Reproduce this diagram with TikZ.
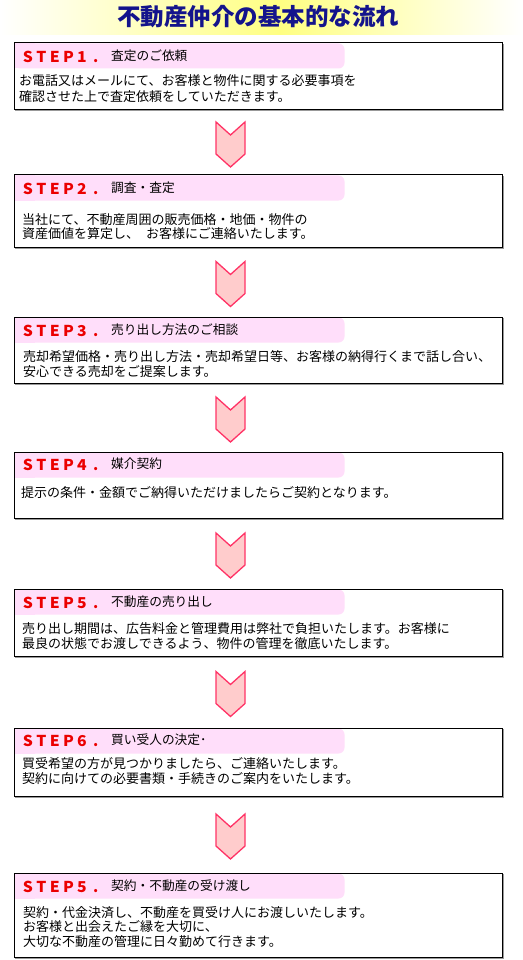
\documentclass[tikz,border=0pt]{standalone}
\usepackage{fontspec}
\setmainfont{Noto Sans CJK JP}
\usetikzlibrary{calc}
\definecolor{titleblue}{RGB}{20,20,140}
\definecolor{hdrpink}{RGB}{255,222,250}
\definecolor{stepred}{RGB}{235,0,0}
\definecolor{chevfill}{RGB}{255,204,204}
\definecolor{chevline}{RGB}{255,51,102}
\definecolor{bandyellow}{RGB}{255,255,130}
\newcommand\wideL[1]{\makebox[13.5pt][c]{\scalebox{1.05}[1]{#1}}}
\newcommand\widedot{\makebox[13.5pt][l]{\hspace{4.5pt}.}}
\newcommand\steptag[1]{\wideL{S}\wideL{T}\wideL{E}\wideL{P}\wideL{#1}\widedot}
\begin{document}
\begin{tikzpicture}[x=1pt,y=-1pt,
  stepbox/.style={draw=black, line width=1pt, inner sep=0pt, outer sep=0pt, anchor=north west, minimum width=488pt},
  shadowline/.style={draw=black!40, line width=1pt},
  steplbl/.style={anchor=west, inner sep=0pt, text=stepred, font=\fontsize{15}{16}\selectfont\bfseries},
  stepttl/.style={anchor=west, inner sep=0pt, font=\fontsize{12.7}{14}\selectfont},
  bodytxt/.style={anchor=west, inner sep=0pt, align=left, font=\fontsize{13}{14.5}\selectfont},
  titletxt/.style={inner sep=0pt, text=titleblue, font=\fontsize{23.5}{25}\selectfont\bfseries},
  chevron/.pic={\draw[fill=chevfill, draw=chevline, line width=1.3pt, line join=miter]
     (-14.5,-20.5) -- (0,-7.5) -- (14.5,-20.5) -- (14.5,11.5) -- (0,24.5) -- (-14.5,11.5) -- cycle;}
]
\useasboundingbox[fill=white] (0,0) rectangle (522,960);

% title band
\shade[left color=white, right color=bandyellow] (0,0) rectangle (280,35);
\shade[left color=bandyellow, right color=white] (280,0) rectangle (522,35);
\node[titletxt] (title) at (258,16.5) {不動産仲介の基本的な流れ};

% boxes
\node[stepbox, minimum height=67pt] (b1) at (14,43) {};
\node[stepbox, minimum height=72pt] (b2) at (14,175) {};
\node[stepbox, minimum height=66pt] (b3) at (14,317) {};
\node[stepbox, minimum height=66pt] (b4) at (14,452) {};
\node[stepbox, minimum height=67pt] (b5) at (14,589) {};
\node[stepbox, minimum height=68pt] (b6) at (14,728) {};
\node[stepbox, minimum height=84pt] (b7) at (14,873) {};

\foreach \b in {b1,b2,b3,b4,b5,b6,b7}{
  \draw[shadowline] ($(\b.south west)+(1,1)$) -- ($(\b.south east)+(1,1)$) -- ($(\b.north east)+(1,1)$);
  \fill[hdrpink, rounded corners=6pt] ($(\b.north west)+(0.5,0.5)$) rectangle ++(330,25);
  \fill[hdrpink] ($(\b.north west)+(0.5,0.5)$) rectangle ++(20,25);
  \draw[line width=1pt] (\b.south west) rectangle (\b.north east);
}

% headers
\node[steplbl] (s1) at ($(b1.north west)+(7,13.5)$) {\steptag{1}};
\node[stepttl] (t1) at ($(b1.north west)+(97,13)$) {査定のご依頼};
\node[steplbl] (s2) at ($(b2.north west)+(7,13.5)$) {\steptag{2}};
\node[stepttl] (t2) at ($(b2.north west)+(97,13)$) {調査・査定};
\node[steplbl] (s3) at ($(b3.north west)+(7,13.5)$) {\steptag{3}};
\node[stepttl] (t3) at ($(b3.north west)+(97,13)$) {売り出し方法のご相談};
\node[steplbl] (s4) at ($(b4.north west)+(7,12.5)$) {\steptag{4}};
\node[stepttl] (t4) at ($(b4.north west)+(97,12)$) {媒介契約};
\node[steplbl] (s5) at ($(b5.north west)+(7,13.5)$) {\steptag{5}};
\node[stepttl] (t5) at ($(b5.north west)+(97,13)$) {不動産の売り出し};
\node[steplbl] (s6) at ($(b6.north west)+(7,12.5)$) {\steptag{6}};
\node[stepttl] (t6) at ($(b6.north west)+(97,12)$) {買い受人の決定･};
\node[steplbl] (s7) at ($(b7.north west)+(7,13.5)$) {\steptag{5}};
\node[stepttl] (t7) at ($(b7.north west)+(97,13)$) {契約・不動産の受け渡し};

% bodies
\node[bodytxt, font=\fontsize{13}{16}\selectfont] (d1) at ($(b1.north west)+(5,46)$)
  {お電話又はメールにて、お客様と物件に関する必要事項を\\確認させた上で査定依頼をしていただきます。};
\node[bodytxt] (d2) at ($(b2.north west)+(8,51.5)$)
  {当社にて、不動産周囲の販売価格・地価・物件の\\資産価値を算定し、\hspace{7pt}お客様にご連絡いたします。};
\node[bodytxt] (d3) at ($(b3.north west)+(9,47)$)
  {売却希望価格・売り出し方法・売却希望日等、お客様の納得行くまで話し合い、\\安心できる売却をご提案します。};
\node[bodytxt] (d4) at ($(b4.north west)+(7,41)$)
  {提示の条件・金額でご納得いただけましたらご契約となります。};
\node[bodytxt] (d5) at ($(b5.north west)+(8,47)$)
  {売り出し期間は、広告料金と管理費用は弊社で負担いたします。お客様に\\最良の状態でお渡しできるよう、物件の管理を徹底いたします。};
\node[bodytxt] (d6) at ($(b6.north west)+(8,43)$)
  {買受希望の方が見つかりましたら、ご連絡いたします。\\契約に向けての必要書類・手続きのご案内をいたします。};
\node[bodytxt] (d7) at ($(b7.north west)+(9,54)$)
  {契約・代金決済し、不動産を買受け人にお渡しいたします。\\お客様と出会えたご縁を大切に、\\大切な不動産の管理に日々勤めて行きます。};

% chevrons
\pic at ($(b1.south)!0.5!(b2.north)+(-27.5,0)$) {chevron};
\pic at ($(b2.south)!0.5!(b3.north)+(-27.5,0)$) {chevron};
\pic at ($(b3.south)!0.5!(b4.north)+(-27.5,0)$) {chevron};
\pic at ($(b4.south)!0.5!(b5.north)+(-27.5,0)$) {chevron};
\pic at ($(b5.south)!0.5!(b6.north)+(-27.5,0)$) {chevron};
\pic at ($(b6.south)!0.5!(b7.north)+(-27.5,0)$) {chevron};
\end{tikzpicture}
\end{document}
